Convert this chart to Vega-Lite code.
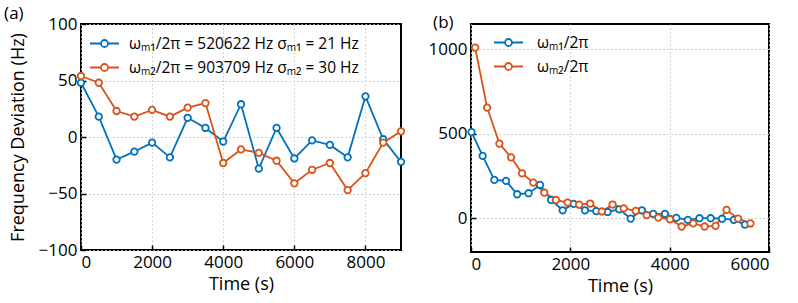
{
  "$schema": "https://vega.github.io/schema/vega-lite/v6.json",
  "background": "white",
  "padding": {"left": 3, "top": 4, "right": 5, "bottom": 2},
  "spacing": 18,
  "config": {
    "font": "Open Sans",
    "view": {"stroke": "black", "strokeWidth": 2},
    "axis": {
      "domain": false,
      "grid": true,
      "gridColor": "#c4c4c4",
      "gridDash": [1.5, 2.5],
      "gridWidth": 1,
      "tickColor": "black",
      "tickSize": -5,
      "tickWidth": 1.5,
      "labelFontSize": 17,
      "labelColor": "black",
      "labelPadding": 9,
      "format": "d",
      "titleFontSize": 18,
      "titleFontWeight": "normal",
      "titleColor": "black",
      "titlePadding": 5
    },
    "legend": {
      "labelFontSize": 15.5,
      "labelColor": "black",
      "labelLimit": 500,
      "symbolType": "M-1,0H-0.24M0.24,0H1M0.24,0A0.24,0.24,0,1,1,-0.24,0A0.24,0.24,0,1,1,0.24,0Z",
      "symbolSize": 841,
      "symbolStrokeWidth": 1.8,
      "symbolFillColor": "white",
      "title": null
    },
    "title": {"fontSize": 17, "fontWeight": "normal", "anchor": "start", "frame": "bounds", "offset": -8}
  },
  "resolve": {"scale": {"color": "independent", "x": "independent", "y": "independent"}, "legend": {"color": "independent"}},
  "hconcat": [
    {
      "width": 320,
      "height": 226,
      "title": {"text": "(a)", "dx": -5},
      "data": {"values": [
        {"t": 0, "v": 48, "s": "M1"}, {"t": 500, "v": 18, "s": "M1"}, {"t": 1000, "v": -20, "s": "M1"}, {"t": 1500, "v": -13, "s": "M1"},
        {"t": 2000, "v": -5, "s": "M1"}, {"t": 2500, "v": -18, "s": "M1"}, {"t": 3000, "v": 17, "s": "M1"}, {"t": 3500, "v": 8, "s": "M1"},
        {"t": 4000, "v": -4, "s": "M1"}, {"t": 4500, "v": 29, "s": "M1"}, {"t": 5000, "v": -28, "s": "M1"}, {"t": 5500, "v": 8, "s": "M1"},
        {"t": 6000, "v": -19, "s": "M1"}, {"t": 6500, "v": -3, "s": "M1"}, {"t": 7000, "v": -7, "s": "M1"}, {"t": 7500, "v": -18, "s": "M1"},
        {"t": 8000, "v": 36, "s": "M1"}, {"t": 8500, "v": -2, "s": "M1"}, {"t": 9000, "v": -22, "s": "M1"},
        {"t": 0, "v": 54, "s": "M2"}, {"t": 500, "v": 48, "s": "M2"}, {"t": 1000, "v": 23, "s": "M2"}, {"t": 1500, "v": 18, "s": "M2"},
        {"t": 2000, "v": 24, "s": "M2"}, {"t": 2500, "v": 18, "s": "M2"}, {"t": 3000, "v": 26, "s": "M2"}, {"t": 3500, "v": 30, "s": "M2"},
        {"t": 4000, "v": -23, "s": "M2"}, {"t": 4500, "v": -11, "s": "M2"}, {"t": 5000, "v": -14, "s": "M2"}, {"t": 5500, "v": -21, "s": "M2"},
        {"t": 6000, "v": -41, "s": "M2"}, {"t": 6500, "v": -29, "s": "M2"}, {"t": 7000, "v": -23, "s": "M2"}, {"t": 7500, "v": -47, "s": "M2"},
        {"t": 8000, "v": -32, "s": "M2"}, {"t": 8500, "v": -5, "s": "M2"}, {"t": 9000, "v": 5, "s": "M2"}
      ]},
      "encoding": {
        "x": {"field": "t", "type": "quantitative", "title": "Time (s)",
              "scale": {"domain": [0, 9000], "nice": false},
              "axis": {"values": [0, 2000, 4000, 6000, 8000]}},
        "y": {"field": "v", "type": "quantitative", "title": "Frequency Deviation (Hz)",
              "scale": {"domain": [-100, 100], "nice": false},
              "axis": {"values": [-100, -50, 0, 50, 100], "titlePadding": 11}},
        "color": {"field": "s", "type": "nominal",
                  "scale": {"domain": ["M1", "M2"], "range": ["#0072BD", "#D95319"]},
                  "legend": {"orient": "none", "legendX": 8, "legendY": 4, "rowPadding": -9, "labelOffset": 9,
                             "labelExpr": "datum.label == 'M1' ? 'ωₘ₁/2π = 520622 Hz σₘ₁ = 21 Hz' : 'ωₘ₂/2π = 903709 Hz σₘ₂ = 30 Hz'"}}
      },
      "layer": [
        {"mark": {"type": "line", "strokeWidth": 1.8}},
        {"mark": {"type": "point", "filled": false, "fill": "white", "fillOpacity": 1, "opacity": 1, "size": 42, "strokeWidth": 1.8}}
      ]
    },
    {
      "width": 298,
      "height": 228,
      "title": {"text": "(b)", "dx": 5},
      "data": {"values": [
        {"t": 10, "v": 510, "s": "M1"}, {"t": 235, "v": 369, "s": "M1"}, {"t": 470, "v": 227, "s": "M1"}, {"t": 705, "v": 221, "s": "M1"},
        {"t": 930, "v": 142, "s": "M1"}, {"t": 1160, "v": 148, "s": "M1"}, {"t": 1390, "v": 197, "s": "M1"}, {"t": 1615, "v": 108, "s": "M1"},
        {"t": 1845, "v": 47, "s": "M1"}, {"t": 2065, "v": 85, "s": "M1"}, {"t": 2295, "v": 47, "s": "M1"}, {"t": 2520, "v": 42, "s": "M1"},
        {"t": 2750, "v": 37, "s": "M1"}, {"t": 2985, "v": 53, "s": "M1"}, {"t": 3215, "v": -2, "s": "M1"}, {"t": 3440, "v": 47, "s": "M1"},
        {"t": 3670, "v": 26, "s": "M1"}, {"t": 3905, "v": 26, "s": "M1"}, {"t": 4135, "v": 2, "s": "M1"}, {"t": 4365, "v": -10, "s": "M1"},
        {"t": 4600, "v": 0, "s": "M1"}, {"t": 4825, "v": 0, "s": "M1"}, {"t": 5055, "v": -3, "s": "M1"}, {"t": 5290, "v": -10, "s": "M1"},
        {"t": 5515, "v": -38, "s": "M1"},
        {"t": 84, "v": 1010, "s": "M2"}, {"t": 325, "v": 655, "s": "M2"}, {"t": 572, "v": 442, "s": "M2"}, {"t": 807, "v": 360, "s": "M2"},
        {"t": 1028, "v": 266, "s": "M2"}, {"t": 1255, "v": 211, "s": "M2"}, {"t": 1476, "v": 152, "s": "M2"}, {"t": 1711, "v": 108, "s": "M2"},
        {"t": 1944, "v": 93, "s": "M2"}, {"t": 2179, "v": 80, "s": "M2"}, {"t": 2400, "v": 87, "s": "M2"}, {"t": 2634, "v": 40, "s": "M2"},
        {"t": 2850, "v": 81, "s": "M2"}, {"t": 3075, "v": 58, "s": "M2"}, {"t": 3317, "v": 43, "s": "M2"}, {"t": 3538, "v": 18, "s": "M2"},
        {"t": 3771, "v": 4, "s": "M2"}, {"t": 4006, "v": -6, "s": "M2"}, {"t": 4241, "v": -49, "s": "M2"}, {"t": 4474, "v": -30, "s": "M2"},
        {"t": 4703, "v": -49, "s": "M2"}, {"t": 4924, "v": -45, "s": "M2"}, {"t": 5145, "v": 49, "s": "M2"}, {"t": 5378, "v": -2, "s": "M2"},
        {"t": 5627, "v": -31, "s": "M2"}
      ]},
      "encoding": {
        "x": {"field": "t", "type": "quantitative", "title": "Time (s)",
              "scale": {"domain": [0, 6000], "nice": false},
              "axis": {"values": [0, 2000, 4000, 6000]}},
        "y": {"field": "v", "type": "quantitative", "title": null,
              "scale": {"domain": [-200, 1150], "nice": false},
              "axis": {"values": [0, 500, 1000]}},
        "color": {"field": "s", "type": "nominal",
                  "scale": {"domain": ["M1", "M2"], "range": ["#0072BD", "#D95319"]},
                  "legend": {"orient": "none", "legendX": 22, "legendY": 3, "rowPadding": -3, "labelOffset": 13,
                             "labelExpr": "datum.label == 'M1' ? 'ωₘ₁/2π' : 'ωₘ₂/2π'"}}
      },
      "layer": [
        {"mark": {"type": "line", "strokeWidth": 1.8}},
        {"mark": {"type": "point", "filled": false, "fill": "white", "fillOpacity": 1, "opacity": 1, "size": 42, "strokeWidth": 1.8}}
      ]
    }
  ]
}
